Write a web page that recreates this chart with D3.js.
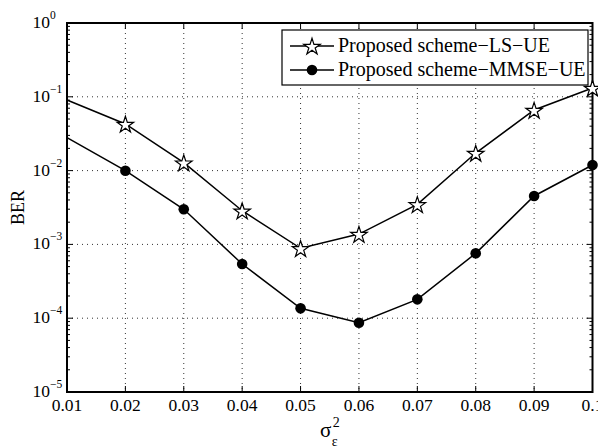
<!DOCTYPE html>
<html>
<head>
<meta charset="utf-8">
<script src="https://cdn.jsdelivr.net/npm/d3@7"></script>
<style>
  body { margin: 0; background: #fff; }
  text { font-family: "Liberation Serif", "Times New Roman", serif; fill: #000; }
</style>
</head>
<body>
<div id="vis"></div>
<script>
// datos
const sigmaValues = [0.01, 0.02, 0.03, 0.04, 0.05, 0.06, 0.07, 0.08, 0.09, 0.1];
const berLS = [0.0905, 0.0428, 0.0128, 0.00286, 0.000885, 0.00138, 0.00349, 0.0173, 0.0662, 0.1316];
const berMMSE = [0.0279, 0.00997, 0.00299, 0.000542, 0.000136, 0.0000869, 0.00018, 0.000757, 0.00453, 0.0119];
const xTicks = [0.01, 0.02, 0.03, 0.04, 0.05, 0.06, 0.07, 0.08, 0.09, 0.1];
const xTickLabels = ["0.01", "0.02", "0.03", "0.04", "0.05", "0.06", "0.07", "0.08", "0.09", "0.1"];
const yTickExps = [0, -1, -2, -3, -4, -5];
const legendLabels = ["Proposed scheme\u2212LS\u2212UE", "Proposed scheme\u2212MMSE\u2212UE"];

function draw() {
  const width = 598;
  const height = 448;
  const margin = { top: 23, right: 5.5, bottom: 56, left: 67 };

  const svg = d3.select("#vis")
    .append("svg")
    .attr("width", width)
    .attr("height", height);

  const x = d3.scaleLinear()
    .domain([0.01, 0.1])
    .range([margin.left, width - margin.right]);

  const y = d3.scaleLog()
    .domain([1e-5, 1])
    .range([height - margin.bottom, margin.top]);

  const x0 = x.range()[0], x1 = x.range()[1];
  const y0 = y.range()[0], y1 = y.range()[1];

  // rejilla punteada
  const grid = svg.append("g")
    .attr("stroke", "#333")
    .attr("stroke-width", 1)
    .attr("stroke-dasharray", "1,4");

  grid.selectAll("line.gx")
    .data(xTicks.slice(1, -1))
    .enter()
    .append("line")
    .attr("x1", (d) => x(d)).attr("x2", (d) => x(d))
    .attr("y1", y1).attr("y2", y0);

  grid.selectAll("line.gy")
    .data(yTickExps.slice(1, -1))
    .enter()
    .append("line")
    .attr("x1", x0).attr("x2", x1)
    .attr("y1", (d) => y(Math.pow(10, d))).attr("y2", (d) => y(Math.pow(10, d)));

  // marcas menores del eje log
  const minor = [];
  for (let e = -5; e < 0; e++) {
    for (let k = 2; k <= 9; k++) minor.push(k * Math.pow(10, e));
  }
  const ticks = svg.append("g").attr("stroke", "#000").attr("stroke-width", 1);
  ticks.selectAll("line.ml")
    .data(minor)
    .enter()
    .append("line")
    .attr("x1", x0).attr("x2", x0 + 3)
    .attr("y1", (d) => y(d)).attr("y2", (d) => y(d));
  ticks.selectAll("line.mr")
    .data(minor)
    .enter()
    .append("line")
    .attr("x1", x1).attr("x2", x1 - 3)
    .attr("y1", (d) => y(d)).attr("y2", (d) => y(d));

  // marcas mayores
  ticks.selectAll("line.yl")
    .data(yTickExps)
    .enter()
    .append("line")
    .attr("x1", x0).attr("x2", x0 + 6)
    .attr("y1", (d) => y(Math.pow(10, d))).attr("y2", (d) => y(Math.pow(10, d)));
  ticks.selectAll("line.yr")
    .data(yTickExps)
    .enter()
    .append("line")
    .attr("x1", x1).attr("x2", x1 - 6)
    .attr("y1", (d) => y(Math.pow(10, d))).attr("y2", (d) => y(Math.pow(10, d)));
  ticks.selectAll("line.xb")
    .data(xTicks)
    .enter()
    .append("line")
    .attr("x1", (d) => x(d)).attr("x2", (d) => x(d))
    .attr("y1", y0).attr("y2", y0 - 6);
  ticks.selectAll("line.xt")
    .data(xTicks)
    .enter()
    .append("line")
    .attr("x1", (d) => x(d)).attr("x2", (d) => x(d))
    .attr("y1", y1).attr("y2", y1 + 6);

  // caja de ejes
  svg.append("rect")
    .attr("x", x0).attr("y", y1)
    .attr("width", x1 - x0).attr("height", y0 - y1)
    .attr("fill", "none")
    .attr("stroke", "#000")
    .attr("stroke-width", 2);

  // etiquetas eje x (0.1 queda cortado en el borde, como en la figura)
  svg.selectAll("text.xl")
    .data(xTicks)
    .enter()
    .append("text")
    .attr("x", (d) => x(d))
    .attr("y", y0 + 19)
    .attr("text-anchor", "middle")
    .style("font-size", "17.5px")
    .text((_d, i) => xTickLabels[i]);

  // etiquetas eje y (10^n)
  svg.selectAll("text.yl")
    .data(yTickExps)
    .enter()
    .append("text")
    .attr("x", x0 - 17)
    .attr("y", (d) => y(Math.pow(10, d)) + 5)
    .attr("text-anchor", "end")
    .style("font-size", "17.5px")
    .text("10");
  svg.selectAll("text.ye")
    .data(yTickExps)
    .enter()
    .append("text")
    .attr("x", x0 - 17)
    .attr("y", (d) => y(Math.pow(10, d)) - 4)
    .attr("text-anchor", "start")
    .style("font-size", "11.5px")
    .text((d) => (d < 0 ? "\u2212" + (-d) : String(d)));

  // titulos de ejes
  svg.append("text")
    .attr("transform", `translate(24,${(y0 + y1) / 2}) rotate(-90)`)
    .attr("text-anchor", "middle")
    .style("font-size", "18px")
    .text("BER");

  const xc = (x0 + x1) / 2;
  svg.append("text")
    .attr("x", xc - 4)
    .attr("y", 437)
    .attr("text-anchor", "middle")
    .style("font-size", "21px")
    .text("\u03c3");
  svg.append("text")
    .attr("x", xc + 3)
    .attr("y", 427)
    .style("font-size", "14px")
    .text("2");
  svg.append("text")
    .attr("x", xc + 2)
    .attr("y", 446)
    .style("font-size", "14px")
    .text("\u03b5");

  // series
  const line = d3.line()
    .x((d) => x(d[0]))
    .y((d) => y(d[1]));

  const lsData = sigmaValues.map((s, i) => [s, berLS[i]]);
  const mmseData = sigmaValues.map((s, i) => [s, berMMSE[i]]);

  const star = d3.symbol().type(d3.symbolStar).size(85);

  svg.append("path")
    .datum(lsData)
    .attr("d", line)
    .attr("fill", "none")
    .attr("stroke", "#000")
    .attr("stroke-width", 1.5);

  svg.append("path")
    .datum(mmseData)
    .attr("d", line)
    .attr("fill", "none")
    .attr("stroke", "#000")
    .attr("stroke-width", 1.5);

  // el primer punto no lleva marcador en la figura original
  svg.selectAll("path.star")
    .data(lsData.slice(1))
    .enter()
    .append("path")
    .attr("d", star)
    .attr("transform", (d) => `translate(${x(d[0])},${y(d[1]) + 1})`)
    .attr("fill", "#fff")
    .attr("stroke", "#000")
    .attr("stroke-width", 1.2);

  svg.selectAll("circle.dot")
    .data(mmseData.slice(1))
    .enter()
    .append("circle")
    .attr("cx", (d) => x(d[0]))
    .attr("cy", (d) => y(d[1]))
    .attr("r", 5.3)
    .attr("fill", "#000");

  // leyenda
  const lg = svg.append("g");
  lg.append("rect")
    .attr("x", 282).attr("y", 30)
    .attr("width", 306).attr("height", 55)
    .attr("fill", "#fff")
    .attr("stroke", "#000")
    .attr("stroke-width", 1.2);

  const rows = [46, 70];
  legendLabels.forEach((label, i) => {
    lg.append("line")
      .attr("x1", 290).attr("x2", 334)
      .attr("y1", rows[i]).attr("y2", rows[i])
      .attr("stroke", "#000")
      .attr("stroke-width", 1.5);
    if (i === 0) {
      lg.append("path")
        .attr("d", star)
        .attr("transform", `translate(312,${rows[i] + 1})`)
        .attr("fill", "#fff")
        .attr("stroke", "#000")
        .attr("stroke-width", 1.2);
    } else {
      lg.append("circle")
        .attr("cx", 312).attr("cy", rows[i])
        .attr("r", 5.3)
        .attr("fill", "#000");
    }
    lg.append("text")
      .attr("x", 338)
      .attr("y", rows[i] + 6)
      .style("font-size", "20px")
      .text(label);
  });
}

draw();
</script>
</body>
</html>
